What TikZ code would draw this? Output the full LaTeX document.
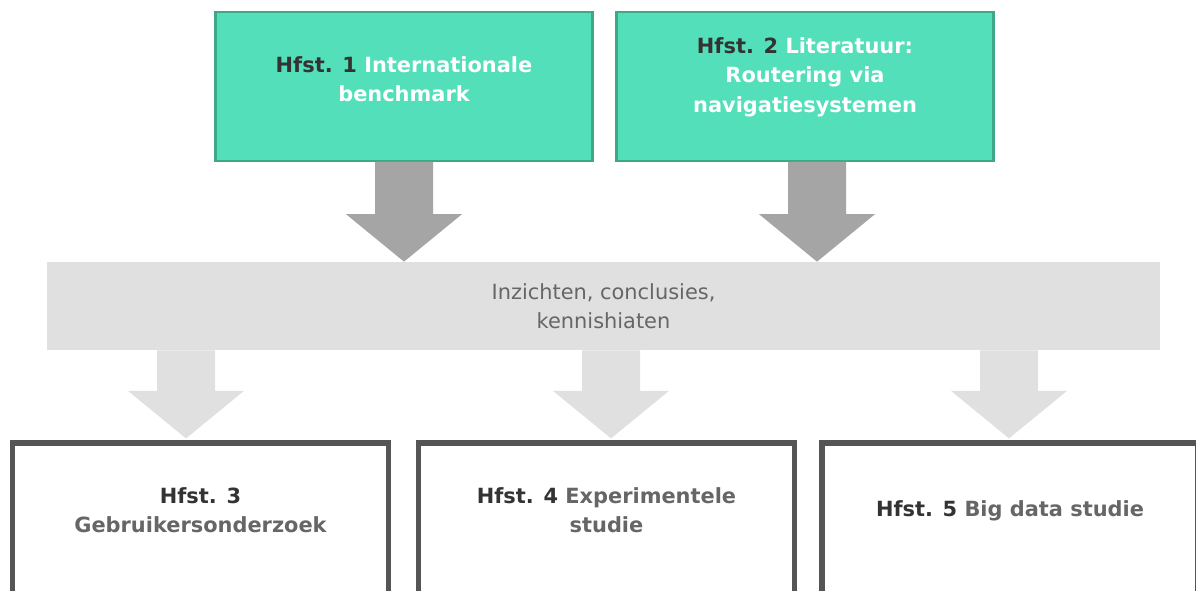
\documentclass[tikz,border=0pt]{standalone}
\usepackage{fontspec}
\usepackage{tikz}
\usetikzlibrary{calc}

\newfontfamily\chapfont{DejaVu Sans}

\definecolor{greenfill}{RGB}{83,223,185}
\definecolor{greenline}{RGB}{64,168,136}
\definecolor{darkarrow}{RGB}{165,165,165}
\definecolor{lightband}{RGB}{224,224,224}
\definecolor{framegray}{RGB}{85,85,85}
\definecolor{darktext}{RGB}{51,51,51}
\definecolor{graytext}{RGB}{102,102,102}

% block arrow: start (y), tip (x and y), colour
\newcommand{\blockarrow}[3]{%
  \fill[#3] let \p1=(#1), \p2=(#2) in
    (\x2-0.58cm,\y1) -- (\x2+0.58cm,\y1) -- (\x2+0.58cm,\y2+0.95cm)
    -- (\x2+1.16cm,\y2+0.95cm) -- (\x2,\y2) -- (\x2-1.16cm,\y2+0.95cm)
    -- (\x2-0.58cm,\y2+0.95cm) -- cycle;}

\tikzset{
  topbox/.style={draw=greenline, fill=greenfill, line width=1.4pt,
    minimum width=7.55cm, minimum height=2.97cm, inner sep=0pt},
  chapbox/.style={draw=framegray, line width=3pt,
    minimum width=7.52cm, minimum height=3.08cm, inner sep=0pt},
  chaptext/.style={align=center, font=\chapfont\bfseries\fontsize{11.9}{16.7}\selectfont},
}

\begin{document}
\begin{tikzpicture}[x=0.02cm, y=-0.02cm]

\fill[white] (0,0) rectangle (1196,591);
\useasboundingbox (0,0) rectangle (1196,591);
\clip (0,0) rectangle (1196,591);

% Boxes
\node[topbox] (h1) at (404,86.5) {};
\node[topbox] (h2) at (805,86.5) {};
\node[fill=lightband, minimum width=22.26cm, minimum height=1.76cm, inner sep=0pt] (band) at (603.5,306) {};
\node[chapbox] (h3) at (200.5,520) {};
\node[chapbox] (h4) at (606.5,520) {};
\node[chapbox] (h5) at (1010,520) {};

% Arrows
\coordinate (a2) at ([xshift=0.24cm]h2.south);
\coordinate (b3) at ([xshift=-0.29cm,yshift=0.04cm]h3.north);
\coordinate (b4) at ([xshift=0.09cm,yshift=0.04cm]h4.north);
\coordinate (b5) at ([xshift=-0.02cm,yshift=0.04cm]h5.north);
\blockarrow{h1.south}{h1.south |- band.north}{darkarrow}
\blockarrow{a2}{a2 |- band.north}{darkarrow}
\blockarrow{band.south}{b3}{lightband}
\blockarrow{band.south}{b4}{lightband}
\blockarrow{band.south}{b5}{lightband}

% Labels
\node[chaptext, text=white] (t1) at ([yshift=0.15cm]h1.center)
  {\textcolor{darktext}{Hfst. 1} Internationale\\benchmark};
\node[chaptext, text=white] (t2) at ([yshift=0.19cm]h2.center)
  {\textcolor{darktext}{Hfst. 2} Literatuur:\\Routering via\\navigatiesystemen};
\node[align=center, text=graytext, font=\chapfont\fontsize{11.9}{16.7}\selectfont] (tb) at (band.center)
  {Inzichten, conclusies,\\kennishiaten};
\node[chaptext, text=graytext] (t3) at ([yshift=-1.4cm]h3.north)
  {\textcolor{darktext}{Hfst. 3}\\Gebruikersonderzoek};
\node[chaptext, text=graytext] (t4) at ([yshift=-1.4cm]h4.north)
  {\textcolor{darktext}{Hfst. 4} Experimentele\\studie};
\node[chaptext, text=graytext] (t5) at ([yshift=-1.4cm]h5.north)
  {\textcolor{darktext}{Hfst. 5} Big data studie};

\end{tikzpicture}
\end{document}
